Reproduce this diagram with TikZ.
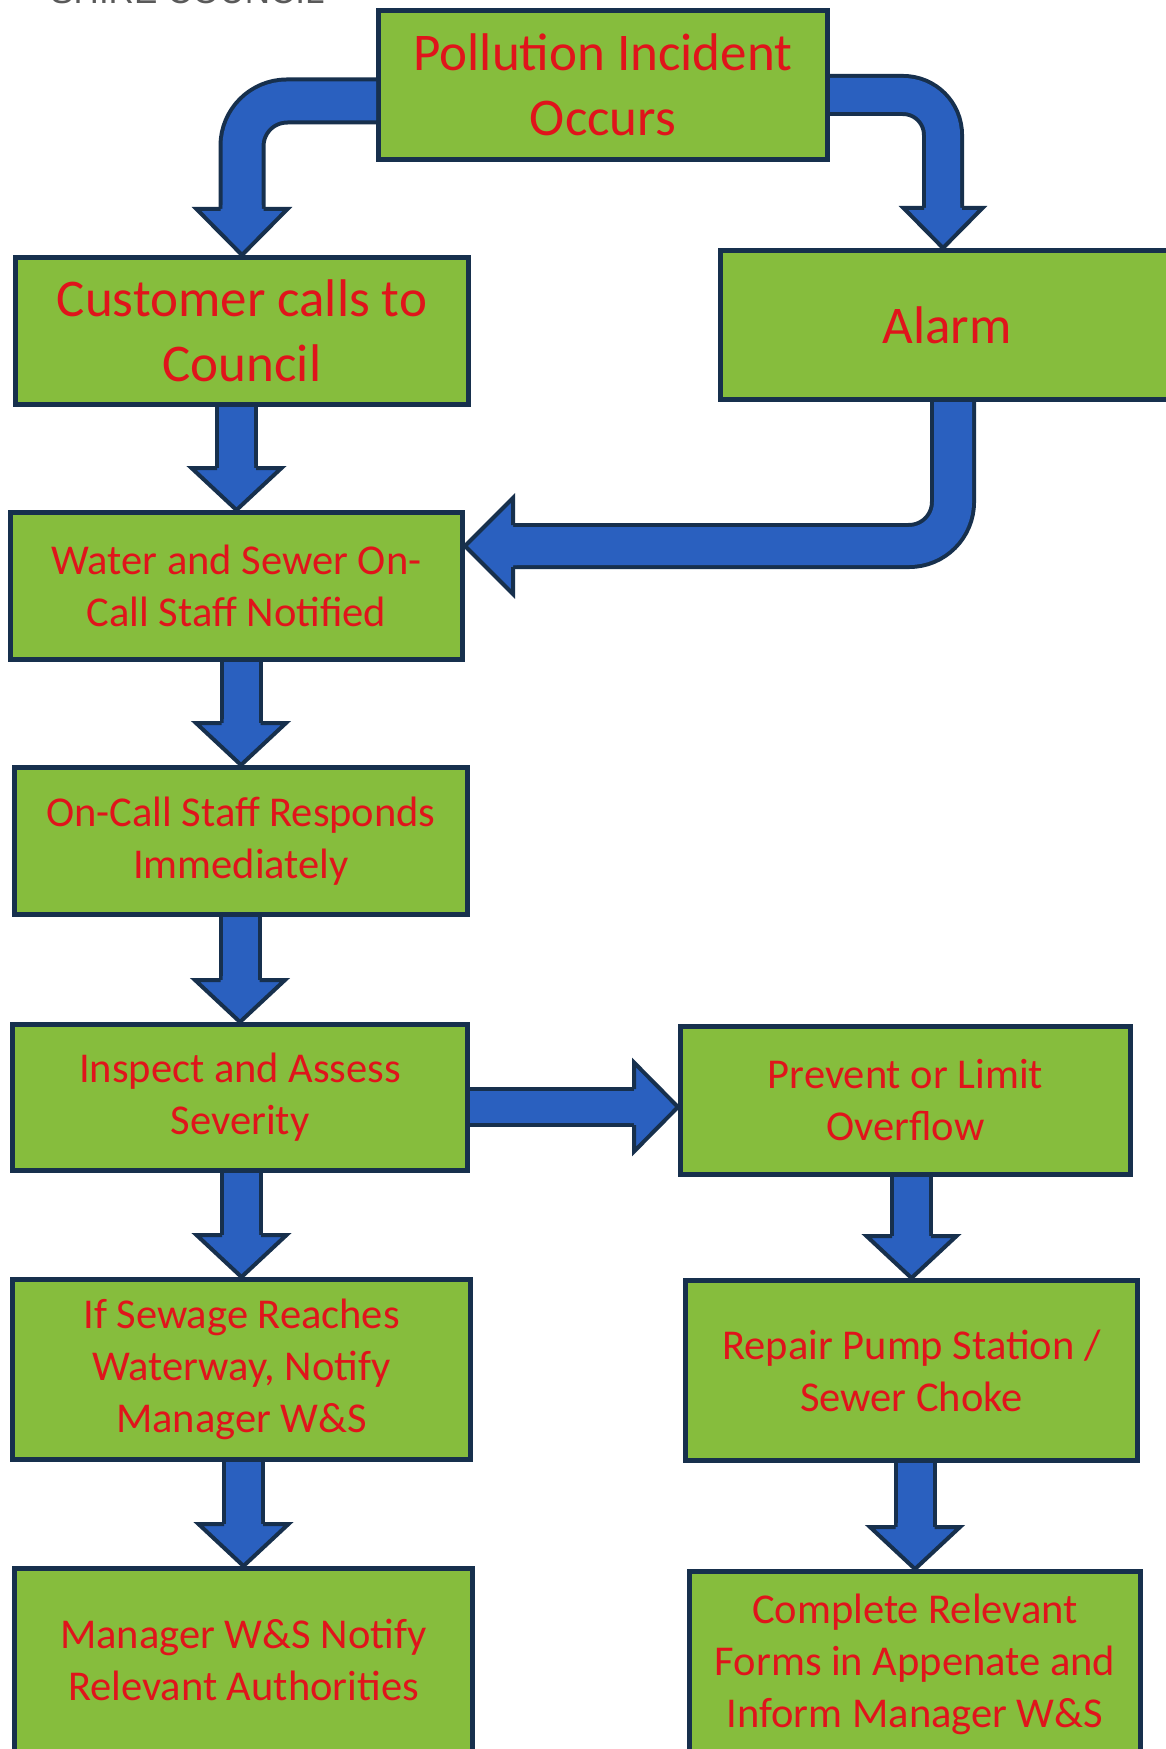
\documentclass[tikz,border=0pt]{standalone}
\usepackage{fontspec}
\setmainfont{Carlito}
\newfontfamily\hdrfont{Liberation Sans}
\usetikzlibrary{calc}
\definecolor{boxgreen}{HTML}{86BD3D}
\definecolor{boxline}{HTML}{17304D}
\definecolor{arrowblue}{HTML}{2A60BF}
\definecolor{txtred}{HTML}{E0141B}
\tikzset{
  flowbox/.style={draw=boxline, line width=2.5pt, fill=boxgreen, text=txtred, align=center, inner sep=0pt},
  bigtxt/.style={font=\fontsize{26.5pt}{32.5pt}\selectfont},
  smalltxt/.style={font=\fontsize{21.25pt}{26pt}\selectfont},
  arrowline/.style={draw=boxline, line width=2pt, line join=miter},
}
% shaft of a block arrow: outer dark stroke, then inner blue stroke
\newcommand\fatshaft[3]{%
  \draw[draw=boxline, line width=#2*0.5pt, rounded corners=#3] #1;
  \draw[draw=arrowblue, line width=#2*0.5pt-4pt, rounded corners=#3] #1;
}
% head of a block arrow: #1 tip, #2 base centre, #3 head half width, #4 inner half, #5 outline start
\newcommand\fathead[5]{%
  \coordinate (hB2) at ($(#2)!-2pt!(#1)$);
  \fill[arrowblue] ($(hB2)!#4!90:(#1)$) -- ($(#2)!#4!90:(#1)$) -- ($(#2)!#3!90:(#1)$) -- (#1)
     -- ($(#2)!#3!-90:(#1)$) -- ($(#2)!#4!-90:(#1)$) -- ($(hB2)!#4!-90:(#1)$) -- cycle;
  \draw[arrowline] ($(#2)!#5!90:(#1)$) -- ($(#2)!#3!90:(#1)$) -- (#1)
     -- ($(#2)!#3!-90:(#1)$) -- ($(#2)!#5!-90:(#1)$);
}
% straight downward block arrow from node #1 to node #2
\newcommand\downfat[2]{%
  \coordinate (dT) at (#2.north);
  \coordinate (dB) at ($(dT)+(0,-42)$);
  \coordinate (dS) at (dT |- #1.south);
  \fatshaft{(dS) -- (dB)}{43}{1pt}
  \fathead{dT}{dB}{22.5pt}{8.75pt}{9.75pt}
}
\begin{document}
\begin{tikzpicture}[x=0.5pt,y=-0.5pt]
\useasboundingbox (0,0) rectangle (1166,1749);
\clip (0,0) rectangle (1166,1749);
\fill[white] (0,0) rectangle (1166,1749);

% cut-off header text
\node[anchor=base west, inner sep=0pt, text=black!65, font=\hdrfont\fontsize{17.5pt}{20pt}\selectfont] (hdr) at (50,4) {SHIRE COUNCIL};

% boxes
\node[flowbox, bigtxt, minimum width=224.5pt, minimum height=74.5pt] (poll) at (603,85) {Pollution Incident\\Occurs};
\node[flowbox, bigtxt, minimum width=226.5pt, minimum height=73.5pt] (cust) at (242,331) {Customer calls to\\Council};
\node[flowbox, bigtxt, minimum width=226.5pt, minimum height=74.5pt] (alarm) at (947,325) {Alarm};
\node[flowbox, smalltxt, minimum width=226pt, minimum height=73.5pt] (water) at (236.5,586) {Water and Sewer On-\\Call Staff Notified};
\node[flowbox, smalltxt, minimum width=226.5pt, minimum height=73.5pt] (oncall) at (241,841) {On-Call Staff Responds\\Immediately};
\node[flowbox, smalltxt, minimum width=227.5pt, minimum height=73pt] (insp) at (240,1097.5) {Inspect and Assess\\Severity};
\node[flowbox, smalltxt, minimum width=229pt, minimum height=90pt] (sewage) at (241.5,1369.5) {If Sewage Reaches\\Waterway, Notify\\Manager W\&S};
\node[flowbox, smalltxt, minimum width=229pt, minimum height=91.5pt] (mgr) at (243.5,1660) {Manager W\&S Notify\\Relevant Authorities};
\node[flowbox, smalltxt, minimum width=225pt, minimum height=74pt] (prev) at (905.5,1100.5) {Prevent or Limit\\Overflow};
\node[flowbox, smalltxt, minimum width=226pt, minimum height=90pt] (repair) at (911.5,1370.5) {Repair Pump Station /\\Sewer Choke};
\node[flowbox, smalltxt, minimum width=225.5pt, minimum height=92.5pt] (complete) at (915,1664) {Complete Relevant\\Forms in Appenate and\\Inform Manager W\&S};

% bent arrow: Pollution -> Customer
\coordinate (a1s) at ($(poll.west)+(0,16)$);
\coordinate (a1t) at (cust.north);
\coordinate (a1b) at ($(a1t)+(0,-46)$);
\coordinate (a1k) at (a1t |- a1s);
\fatshaft{(a1s) -- (a1k) -- (a1b)}{47}{22.5pt}
\fathead{a1t}{a1b}{22.75pt}{9.75pt}{10.75pt}

% bent arrow: Pollution -> Alarm
\coordinate (a2s) at ($(poll.east)+(0,10)$);
\coordinate (a2t) at ($(alarm.north)+(-4,0)$);
\coordinate (a2b) at ($(a2t)+(0,-40)$);
\coordinate (a2k) at (a2t |- a2s);
\fatshaft{(a2s) -- (a2k) -- (a2b)}{42}{20pt}
\fathead{a2t}{a2b}{19.75pt}{8.5pt}{9.5pt}

% bent arrow: Alarm -> Water and Sewer
\coordinate (a3s) at ($(alarm.south)+(6,0)$);
\coordinate (a3t) at ($(water.east)+(0,-40)$);
\coordinate (a3b) at ($(a3t)+(48,0)$);
\coordinate (a3k) at (a3s |- a3t);
\fatshaft{(a3s) -- (a3k) -- (a3b)}{46}{22pt}
\fathead{a3t}{a3b}{24pt}{9.5pt}{10.5pt}

% straight arrow: Inspect -> Prevent
\coordinate (a4t) at ($(prev.west)+(0,6.5)$);
\coordinate (a4s) at (insp.east |- a4t);
\coordinate (a4b) at ($(a4t)+(-44,0)$);
\fatshaft{(a4s) -- (a4b)}{40}{1pt}
\fathead{a4t}{a4b}{22.25pt}{8pt}{9pt}

% straight downward arrows
\downfat{cust}{water}
\downfat{water}{oncall}
\downfat{oncall}{insp}
\downfat{insp}{sewage}
\downfat{sewage}{mgr}
\downfat{prev}{repair}
\downfat{repair}{complete}
\end{tikzpicture}
\end{document}
